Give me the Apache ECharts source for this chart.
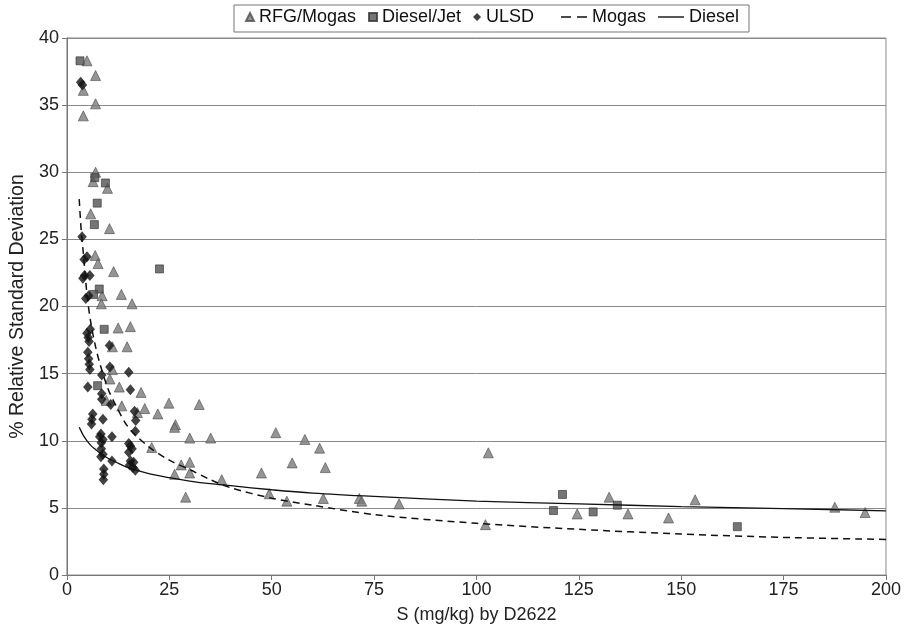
<!DOCTYPE html>
<html>
<head>
<meta charset="utf-8">
<script src="https://cdn.jsdelivr.net/npm/echarts@6/dist/echarts.min.js"></script>
<style>
  html, body { margin: 0; padding: 0; background: #fff; }
  #chart { width: 904px; height: 629px; }
</style>
</head>
<body>
<div id="chart"></div>
<script>
// Precision study: relative standard deviation vs. sulfur level (D2622)
const rfgMogas = [
  [4.9, 38.3], [7.0, 37.2], [4.0, 36.1], [7.0, 35.1], [4.0, 34.2],
  [7.0, 30.0], [6.4, 29.3], [9.9, 28.8], [5.8, 26.9], [10.4, 25.8],
  [6.9, 23.8], [7.6, 23.2], [11.4, 22.6], [8.6, 20.8], [13.3, 20.9],
  [8.4, 20.2], [15.9, 20.2], [12.5, 18.4], [15.5, 18.5], [11.1, 17.0],
  [14.7, 17.0], [11.1, 15.3], [10.5, 14.6], [12.8, 14.0], [18.1, 13.6],
  [9.6, 13.0], [13.4, 12.6], [17.2, 12.1], [19.0, 12.4], [22.2, 12.0],
  [24.9, 12.8], [32.3, 12.7], [26.5, 11.2], [26.3, 11.0], [30.0, 10.2],
  [35.1, 10.2], [20.7, 9.5], [27.9, 8.2], [30.0, 8.4], [26.3, 7.5],
  [30.0, 7.6], [37.8, 7.1], [29.0, 5.8], [51.0, 10.6], [58.1, 10.1],
  [61.7, 9.45], [102.9, 9.1], [55.0, 8.35], [47.5, 7.6], [63.1, 8.0],
  [49.4, 6.05], [53.7, 5.5], [62.6, 5.7], [71.4, 5.7], [72.0, 5.5],
  [81.1, 5.3], [102.2, 3.75], [124.6, 4.55], [132.4, 5.8], [137.0, 4.55],
  [146.9, 4.25], [153.4, 5.6], [187.5, 5.05], [194.9, 4.65]
];

const dieselJet = [
  [3.2, 38.3], [6.8, 29.6], [9.4, 29.2], [7.4, 27.7], [6.7, 26.1],
  [22.6, 22.8], [7.9, 21.3], [6.5, 20.9], [9.1, 18.3], [7.5, 14.1],
  [121.0, 6.0], [118.8, 4.8], [128.5, 4.7], [134.4, 5.2], [163.7, 3.6]
];

const ulsd = [
  [3.35, 36.7], [3.8, 36.5], [3.7, 25.2], [4.2, 23.5], [4.9, 23.7],
  [3.9, 22.1], [4.3, 22.3], [5.6, 22.3], [4.6, 20.6], [5.3, 20.8],
  [5.7, 18.3], [4.9, 18.0], [5.2, 17.7], [5.4, 17.4], [10.4, 17.1],
  [5.1, 16.6], [5.3, 16.1], [5.45, 15.7], [5.6, 15.3], [10.5, 15.5],
  [15.1, 15.1], [8.5, 14.9], [5.1, 14.0], [15.5, 13.8], [8.5, 13.5],
  [8.5, 13.1], [10.7, 12.7], [16.5, 12.2], [6.3, 12.0], [6.1, 11.6],
  [6.0, 11.25], [8.8, 11.6], [16.8, 11.5], [16.7, 10.7], [8.3, 10.5],
  [8.0, 10.3], [8.8, 10.1], [8.4, 9.85], [11.0, 10.3], [15.1, 9.8],
  [15.5, 9.6], [15.1, 9.15], [15.9, 9.4], [8.4, 9.4], [8.8, 9.0],
  [8.3, 8.8], [11.0, 8.5], [15.5, 8.5], [16.3, 8.4], [15.3, 8.2],
  [16.1, 8.0], [16.7, 7.8], [9.0, 7.9], [9.0, 7.5], [8.9, 7.1]
];

// Fitted precision curves, sampled along S
const curveS      = [3, 3.5, 4, 5, 6, 7, 8, 10, 12, 15, 20, 25, 30, 35, 40, 50, 60, 75, 100, 125, 150, 175, 200];
const mogasFit    = [28.0, 25.6, 24.0, 20.6, 18.5, 17.0, 15.8, 13.9, 12.6, 11.0, 9.55, 8.55, 7.85, 7.1, 6.5, 5.72, 5.2, 4.5, 3.85, 3.4, 3.05, 2.8, 2.65];
const dieselFit   = [11.0, 10.7, 10.4, 9.95, 9.6, 9.35, 9.1, 8.7, 8.4, 8.0, 7.55, 7.25, 7.0, 6.8, 6.65, 6.35, 6.1, 5.85, 5.5, 5.3, 5.1, 4.95, 4.78];

const pair = (xs, ys) => xs.map((x, i) => [x, ys[i]]);

const FONT = 'Liberation Sans, Arial, Helvetica, sans-serif';
const chart = echarts.init(document.getElementById('chart'), null, { renderer: 'canvas' });

const legendText = { fontFamily: FONT, fontSize: 18, color: '#111' };

// Legend keys for the fitted curves: a broken and an unbroken stroke
const dashedKey = 'path://M0,0h10v1.6H0zM16,0h10v1.6H16z';
const solidKey  = 'path://M0,0h26v1.4H0z';

chart.setOption({
  animation: false,
  backgroundColor: '#fff',
  graphic: [{
    type: 'rect',
    shape: { x: 234, y: 5, width: 515, height: 27 },
    style: { fill: '#fff', stroke: '#777', lineWidth: 1 },
    z: 0
  }],
  legend: [{
    data: [
      { name: 'RFG/Mogas', icon: 'triangle' },
      { name: 'Diesel/Jet', icon: 'rect' },
      { name: 'ULSD', icon: 'diamond' }
    ],
    left: 245, top: 8,
    itemWidth: 8, itemHeight: 8, itemGap: 12, itemTextGap: 8,
    padding: 0,
    textStyle: legendText,
    z: 5
  }, {
    data: [
      { name: 'Mogas', icon: dashedKey },
      { name: 'Diesel', icon: solidKey }
    ],
    left: 561, top: 8,
    itemWidth: 26, itemHeight: 1.6, itemGap: 12, itemTextGap: 4,
    padding: 0,
    textStyle: legendText,
    z: 5
  }],
  grid: {
    left: 66, right: 18, top: 38, bottom: 48,
    show: true, borderColor: '#8a8a8a', borderWidth: 1
  },
  xAxis: {
    type: 'value', min: 0, max: 200, interval: 25,
    name: 'S (mg/kg) by D2622', nameLocation: 'middle', nameGap: 31,
    nameTextStyle: { fontFamily: FONT, fontSize: 18, color: '#222' },
    axisLine: { lineStyle: { color: '#777' } },
    axisTick: { length: 5, lineStyle: { color: '#777' } },
    axisLabel: { fontFamily: FONT, fontSize: 18, color: '#222', margin: 6 },
    splitLine: { show: false }
  },
  yAxis: {
    type: 'value', min: 0, max: 40, interval: 5,
    name: '% Relative Standard Deviation', nameLocation: 'middle', nameGap: 38,
    nameTextStyle: { fontFamily: FONT, fontSize: 19.5, color: '#222' },
    axisLine: { show: true, lineStyle: { color: '#777' } },
    axisTick: { show: true, length: 5, lineStyle: { color: '#777' } },
    axisLabel: { fontFamily: FONT, fontSize: 18, color: '#222', margin: 8 },
    splitLine: { lineStyle: { color: '#8a8a8a', width: 1 } }
  },
  series: [
    {
      name: 'RFG/Mogas', type: 'scatter', data: rfgMogas,
      symbol: 'triangle', symbolSize: 10,
      itemStyle: { color: '#7b7b7b', borderColor: '#4d4d4d', borderWidth: 0.8 }
    },
    {
      name: 'Diesel/Jet', type: 'scatter', data: dieselJet,
      symbol: 'rect', symbolSize: 8,
      itemStyle: { color: '#525252', borderColor: '#333', borderWidth: 0.8 }
    },
    {
      name: 'ULSD', type: 'scatter', data: ulsd,
      symbol: 'diamond', symbolSize: [9.5, 11],
      itemStyle: { color: '#111' }
    },
    {
      name: 'Mogas', type: 'line', data: pair(curveS, mogasFit),
      smooth: 0.3, symbol: 'none',
      lineStyle: { color: '#111', width: 1.5, type: [7, 5] },
      itemStyle: { color: '#111' }
    },
    {
      name: 'Diesel', type: 'line', data: pair(curveS, dieselFit),
      smooth: 0.3, symbol: 'none',
      lineStyle: { color: '#111', width: 1.3 },
      itemStyle: { color: '#111' }
    }
  ]
});
</script>
</body>
</html>
